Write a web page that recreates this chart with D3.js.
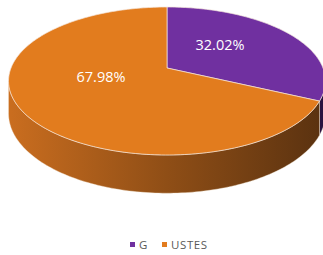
<!DOCTYPE html>
<html>
<head>
<meta charset="utf-8">
<script src="https://cdn.jsdelivr.net/npm/d3@7"></script>
<style>
  body { margin: 0; background: #fff; }
  svg { display: block; font-family: "Open Sans", "Liberation Sans", sans-serif; }
</style>
</head>
<body>
<div class="chart"></div>
<script>
const width = 323;
const height = 255;

const categories = ["G", "USTES"];
const values = [32.02, 67.98];
const colors = ["#7030a0", "#e27c1e"];

// 3d pie geometry (perspective tilt)
const cx = 167, cy = 68;
const R = 156;      // horizontal radius
const H = 71.7;     // vertical radius
const persp = 0.1757;
const depth = 31.5;

function proj(theta, r = 1, down = 0) {
    const X = r * Math.sin(theta), Z = r * Math.cos(theta);
    const p = 1 / (1 + persp * Z);
    return [cx + R * X * p, cy - H * Z * p + down * p];
}

const svg = d3.select("div.chart")
    .append("svg")
    .attr("width", width)
    .attr("height", height);

const defs = svg.append("defs");
const sideGrad = [
    { id: "side0", stops: ["#5c2c85", "#3e1c5c", "#2a1240"] },
    { id: "side1", stops: ["#c96d1f", "#8f4e16", "#5a3210"] }
];
sideGrad.forEach(g => {
    const lg = defs.append("linearGradient")
        .attr("id", g.id)
        .attr("gradientUnits", "userSpaceOnUse")
        .attr("x1", cx - R).attr("x2", cx + R)
        .attr("y1", 0).attr("y2", 0);
    lg.selectAll("stop").data(g.stops).join("stop")
        .attr("offset", (_d, i) => i / (g.stops.length - 1))
        .attr("stop-color", d => d);
});

const pie = d3.pie().sort(null).value(d => d);
const arcs = pie(values);

const visLo = Math.acos(-persp);          // silhouette angles
const visHi = 2 * Math.PI - visLo;

function arcPoints(a0, a1, down) {
    const n = Math.max(2, Math.ceil((a1 - a0) / 0.02));
    return d3.range(n + 1).map(i => proj(a0 + (a1 - a0) * i / n, 1, down));
}

// sides
const sides = svg.append("g").attr("class", "sides");
arcs.forEach((a, i) => {
    const s0 = Math.max(a.startAngle, visLo);
    const s1 = Math.min(a.endAngle, visHi);
    if (s1 <= s0) return;
    const top = arcPoints(s0, s1, 0);
    const bottom = arcPoints(s0, s1, depth).reverse();
    sides.append("path")
        .attr("d", d3.line()(top.concat(bottom)) + "Z")
        .attr("fill", `url(#side${i})`)
        .attr("stroke", "#f3e2d0")
        .attr("stroke-width", 0.4);
});

// top faces
const tops = svg.append("g").attr("class", "tops");
arcs.forEach((a, i) => {
    const pts = [proj(0, 0)].concat(arcPoints(a.startAngle, a.endAngle, 0));
    tops.append("path")
        .attr("d", d3.line()(pts) + "Z")
        .attr("fill", colors[i])
        .attr("stroke", "#f5e6dc")
        .attr("stroke-width", 0.7)
        .attr("stroke-linejoin", "round");
});

// data labels
const labelPos = [[220, 44], [101, 76]];
svg.append("g").selectAll("text")
    .data(arcs)
    .join("text")
    .attr("x", (_d, i) => labelPos[i][0])
    .attr("y", (_d, i) => labelPos[i][1])
    .attr("text-anchor", "middle")
    .attr("dominant-baseline", "central")
    .attr("fill", "#ffffff")
    .attr("font-size", 14.5)
    .text(d => d.data.toFixed(2) + "%");

// legend
const legendX = [130, 162];
const legend = svg.append("g").attr("class", "legend");
categories.forEach((c, i) => {
    legend.append("rect")
        .attr("x", legendX[i]).attr("y", 242)
        .attr("width", 5).attr("height", 5)
        .attr("fill", colors[i]);
    legend.append("text")
        .attr("x", legendX[i] + 9).attr("y", 244.5)
        .attr("dominant-baseline", "central")
        .attr("font-size", 11.5)
        .attr("letter-spacing", 0.6)
        .attr("fill", "#595959")
        .text(c);
});
</script>
</body>
</html>
